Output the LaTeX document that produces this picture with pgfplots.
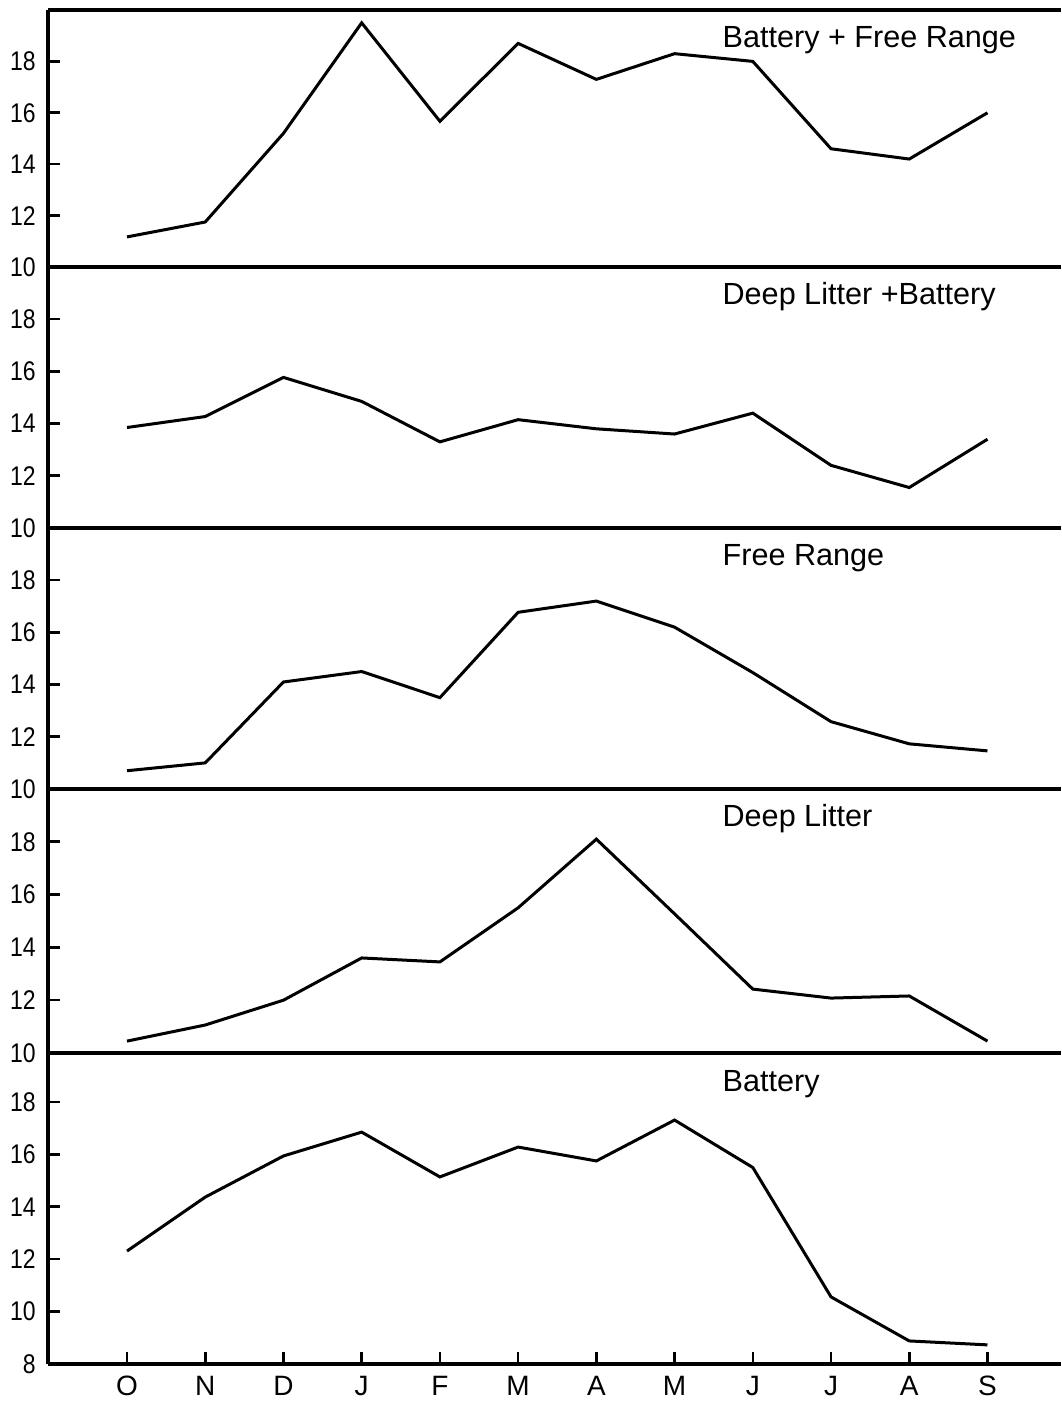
\documentclass[border=0pt]{standalone}
\usepackage{fontspec}
\setmainfont{Liberation Sans}
\newfontfamily\tickfont[FakeStretch=0.85]{Liberation Sans}
\usepackage{pgfplots}
\pgfplotsset{compat=1.18}
\pgfplotsset{
  panel/.style={
    scale only axis, width=506.5pt, anchor=south west,
    xmin=-1.01, xmax=11.94, ymin=10, ymax=20,
    axis x line*=bottom, axis y line*=left,
    axis line style={line width=1.6pt, -},
    ytick={10,12,14,16,18}, xtick=\empty,
    tick align=inside, major tick length=6pt,
    tick style={line width=1.3pt, black},
    /pgf/number format/assume math mode=true,
    yticklabel style={font=\tickfont\fontsize{13.5}{14}\selectfont, inner xsep=0pt, xshift=-6pt},
    xticklabel style={font=\fontsize{14}{15}\selectfont, yshift=-2.5pt},
    clip=false,
  },
  dataline/.style={black, line width=1.5pt, mark=none, sharp plot},
}
\newcommand{\paneltitle}[1]{\node[anchor=base west, yshift=-19pt, font=\fontsize{15.3}{16}\selectfont] at (rel axis cs:0.659,1) {#1};}
\begin{document}
\begin{tikzpicture}
\useasboundingbox (0,0) rectangle (530.5pt,701.5pt);
% Panel 1
\begin{axis}[panel, at={(24pt,568pt)}, height=128.5pt]
\addplot[dataline] coordinates {(0,11.17) (1,11.75) (2,15.2) (3,19.5) (4,15.67) (5,18.7) (6,17.3) (7,18.3) (8,18.0) (9,14.6) (10,14.2) (11,16.0)};
\draw[line width=1.6pt] (rel axis cs:0,1) -- (rel axis cs:1,1);
\paneltitle{Battery + Free Range}
\end{axis}
% Panel 2
\begin{axis}[panel, at={(24pt,437.5pt)}, height=130.5pt]
\addplot[dataline] coordinates {(0,13.85) (1,14.27) (2,15.77) (3,14.85) (4,13.3) (5,14.15) (6,13.8) (7,13.6) (8,14.4) (9,12.4) (10,11.55) (11,13.4)};
\paneltitle{Deep Litter +Battery}
\end{axis}
% Panel 3
\begin{axis}[panel, at={(24pt,307pt)}, height=130.5pt]
\addplot[dataline] coordinates {(0,10.7) (1,11.0) (2,14.1) (3,14.5) (4,13.5) (5,16.77) (6,17.2) (7,16.2) (8,14.46) (9,12.58) (10,11.73) (11,11.46)};
\paneltitle{Free Range}
\end{axis}
% Panel 4
\begin{axis}[panel, at={(24pt,175pt)}, height=132pt]
\addplot[dataline] coordinates {(0,10.45) (1,11.06) (2,12.0) (3,13.6) (4,13.45) (5,15.5) (6,18.1) (7,15.27) (8,12.42) (9,12.08) (10,12.16) (11,10.45)};
\paneltitle{Deep Litter}
\end{axis}
% Panel 5
\begin{axis}[panel, at={(24pt,19.5pt)}, height=155.5pt, ymin=8, ymax=19.87,
  ytick={8,10,12,14,16,18}, xtick={0,...,11},
  xticklabels={O,N,D,J,F,M,A,M,J,J,A,S}]
\addplot[dataline] coordinates {(0,12.31) (1,14.37) (2,15.94) (3,16.85) (4,15.14) (5,16.28) (6,15.75) (7,17.31) (8,15.5) (9,10.56) (10,8.88) (11,8.73)};
\paneltitle{Battery}
\end{axis}
\end{tikzpicture}
\end{document}
